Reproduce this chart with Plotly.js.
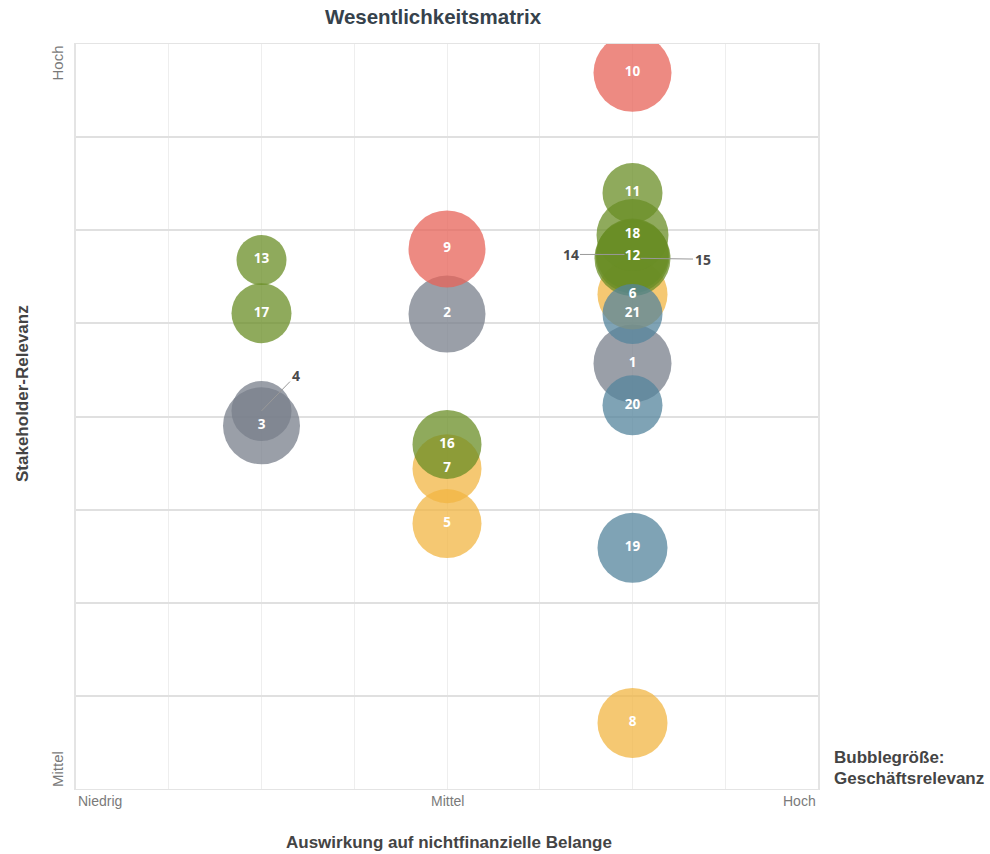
<!DOCTYPE html>
<html>
<head>
<meta charset="utf-8">
<script src="https://cdn.plot.ly/plotly-3.0.1.min.js"></script>
<style>html,body{margin:0;padding:0;background:#fff;}#chart{width:990px;height:854px;}</style>
</head>
<body>
<div id="chart"></div>
<script>
// ---- data ----
const ids       = ['1','2','3','4','5','6','7','8','9','10','11','12','13','14','15','16','17','18','19','20','21'];
const impact    = [6, 4, 2, 2, 4, 6, 4, 6, 4, 6, 6, 6, 2, 6, 6, 4, 2, 6, 6, 6, 6];
const stakeholder = [4.57, 5.10, 3.90, 4.06, 2.85, 5.31, 3.44, 0.71, 5.80, 7.69, 6.40, 5.72, 5.68, 5.74, 5.70, 3.70, 5.11, 5.95, 2.59, 4.12, 5.10];
const business  = [7.8, 7.7, 7.7, 6.0, 6.9, 7.0, 6.9, 7.0, 7.7, 7.8, 6.0, 7.4, 5.0, 7.2, 7.6, 6.9, 6.0, 7.2, 7.0, 6.0, 6.0];
const group     = ['grau','grau','grau','grau','gelb','gelb','gelb','gelb','rot','rot','gruen','gruen','gruen','gruen','gruen','gruen','gruen','gruen','blau','blau','blau'];
const outsideLabels = ['4','14','15'];
const xTickLabels = ['Niedrig', 'Mittel', 'Hoch'];
const yTickLabels = ['Mittel', 'Hoch'];

const palette = {rot:'#E76358', blau:'#54849C', gelb:'#F2B643', gruen:'#6A8E26', grau:'#787F8B'};

const trace = {
  type:'scatter', mode:'markers+text',
  x: impact, y: stakeholder,
  text: ids.map(t => outsideLabels.includes(t) ? '' : t),
  textposition:'middle center',
  textfont:{family:'Open Sans, Liberation Sans, sans-serif', size:13.5, color:'#ffffff', weight:'bold'},
  marker:{size: business, sizemode:'diameter', sizeref:0.1, color: group.map(g => palette[g]), opacity:0.75, line:{width:0}},
  hoverinfo:'skip', cliponaxis:true
};

const annFont = {family:'Open Sans, Liberation Sans, sans-serif', size:14, color:'#4a4a4a', weight:'bold'};
const callouts = {'4':[34,-35], '14':[-62,0], '15':[70,1]};
const annotations = [];
outsideLabels.forEach(id => {
  const i = ids.indexOf(id);
  annotations.push({x: impact[i], y: stakeholder[i], xref:'x', yref:'y', text:id, showarrow:true,
    arrowhead:0, arrowwidth:1, arrowcolor:'#999', ax: callouts[id][0], ay: callouts[id][1], standoff: id==='4'?0:8,
    font: annFont});
});

// layout geometry
const L=76, R=172, T=44, B=65, W=990, H=854, pw=W-L-R, ph=H-T-B;
const px = v => (v - L)/pw;
const py = v => (H - B - v)/ph;

const tickFont = {family:'Liberation Sans, Arial, sans-serif', size:14, color:'#7a7a7a'};
const ytickFont = {family:'Liberation Sans, Arial, sans-serif', size:15, color:'#7a7a7a'};
annotations.push({x:0, y:py(801), xref:'x', yref:'paper', xanchor:'left', yanchor:'middle', text:xTickLabels[0], showarrow:false, font:tickFont});
annotations.push({x:4, y:py(801), xref:'x', yref:'paper', xanchor:'center', yanchor:'middle', text:xTickLabels[1], showarrow:false, font:tickFont});
annotations.push({x:8, y:py(801), xref:'x', yref:'paper', xanchor:'right', yanchor:'middle', text:xTickLabels[2], showarrow:false, font:tickFont});
annotations.push({x:px(57), y:0, xref:'paper', yref:'y', xanchor:'center', yanchor:'bottom', text:yTickLabels[0], showarrow:false, textangle:-90, font:ytickFont});
annotations.push({x:px(57), y:8, xref:'paper', yref:'y', xanchor:'center', yanchor:'top', text:yTickLabels[1], showarrow:false, textangle:-90, font:ytickFont});
const titleFont = {family:'Liberation Sans, Arial, sans-serif', size:17, color:'#444', weight:'bold'};
annotations.push({x:px(449), y:py(842), xref:'paper', yref:'paper', xanchor:'center', yanchor:'middle', text:'Auswirkung auf nichtfinanzielle Belange', showarrow:false, font:titleFont});
annotations.push({x:px(22), y:py(394), xref:'paper', yref:'paper', xanchor:'center', yanchor:'middle', text:'Stakeholder-Relevanz', showarrow:false, textangle:-90, font:titleFont});
annotations.push({x:px(832), y:py(757), xref:'paper', yref:'paper', xanchor:'left', yanchor:'middle', text:'Bubblegröße:', showarrow:false, font:titleFont});
annotations.push({x:px(832), y:py(778), xref:'paper', yref:'paper', xanchor:'left', yanchor:'middle', text:'Geschäftsrelevanz', showarrow:false, font:titleFont});

const layout = {
  width:W, height:H,
  margin:{l:L, r:R, t:T, b:B},
  paper_bgcolor:'#fff', plot_bgcolor:'#fff',
  showlegend:false,
  title:{text:'Wesentlichkeitsmatrix', x:433/W, xanchor:'center', y:1-17/H, yanchor:'middle', yref:'container',
    font:{family:'Liberation Sans, Arial, sans-serif', size:20.5, color:'#36424c', weight:'bold'}},
  xaxis:{range:[0,8], dtick:1, tick0:0, showticklabels:false, ticks:'', zeroline:false,
    showgrid:true, gridcolor:'#eeeeee', gridwidth:1, showline:true, linecolor:'#e4e4e4', linewidth:1, mirror:true, fixedrange:true},
  yaxis:{range:[0,8], dtick:1, tick0:0, showticklabels:false, ticks:'', zeroline:false,
    showgrid:true, gridcolor:'#e0e0e0', gridwidth:2, showline:true, linecolor:'#e4e4e4', linewidth:2, mirror:true, fixedrange:true},
  annotations: annotations
};

Plotly.newPlot('chart', [trace], layout, {displayModeBar:false, staticPlot:true});
</script>
</body>
</html>
